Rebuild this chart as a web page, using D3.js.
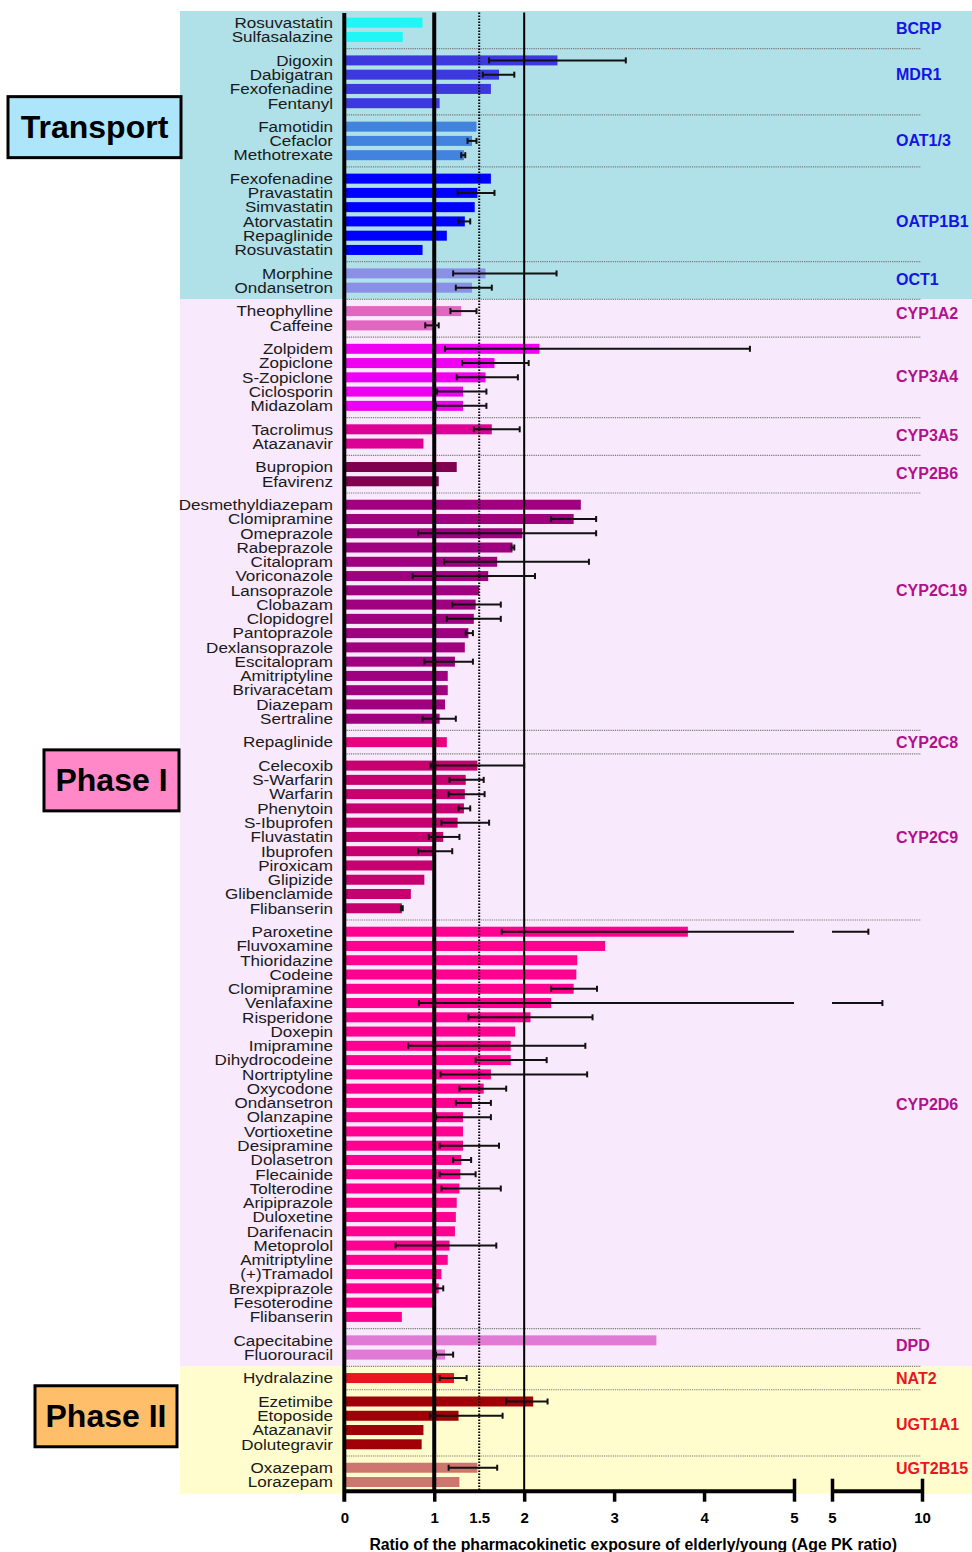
<!DOCTYPE html>
<html>
<head>
<meta charset="utf-8">
<script src="https://cdn.jsdelivr.net/npm/d3@7"></script>
<style>
  body { margin: 0; background: #fff; }
  svg { display: block; }
  text { font-family: "Liberation Sans", Arial, Helvetica, sans-serif; }
</style>
</head>
<body>
<svg id="chart" width="972" height="1552"></svg>
<script>
// ---- data -------------------------------------------------------------
const phases = ["Transport", "Phase I", "Phase II"];

const groupNames = ["BCRP", "MDR1", "OAT1/3", "OATP1B1", "OCT1",
  "CYP1A2", "CYP3A4", "CYP3A5", "CYP2B6", "CYP2C19", "CYP2C8", "CYP2C9", "CYP2D6", "DPD",
  "NAT2", "UGT1A1", "UGT2B15"];
const groupSizes = [2, 4, 3, 6, 2, 2, 5, 2, 2, 16, 1, 11, 28, 2, 1, 4, 2];
const groupPhase = [0, 0, 0, 0, 0, 1, 1, 1, 1, 1, 1, 1, 1, 1, 2, 2, 2];

const drugs = [
  "Rosuvastatin", "Sulfasalazine",
  "Digoxin", "Dabigatran", "Fexofenadine", "Fentanyl",
  "Famotidin", "Cefaclor", "Methotrexate",
  "Fexofenadine", "Pravastatin", "Simvastatin", "Atorvastatin", "Repaglinide", "Rosuvastatin",
  "Morphine", "Ondansetron",
  "Theophylline", "Caffeine",
  "Zolpidem", "Zopiclone", "S-Zopiclone", "Ciclosporin", "Midazolam",
  "Tacrolimus", "Atazanavir",
  "Bupropion", "Efavirenz",
  "Desmethyldiazepam", "Clomipramine", "Omeprazole", "Rabeprazole", "Citalopram", "Voriconazole",
  "Lansoprazole", "Clobazam", "Clopidogrel", "Pantoprazole", "Dexlansoprazole", "Escitalopram",
  "Amitriptyline", "Brivaracetam", "Diazepam", "Sertraline",
  "Repaglinide",
  "Celecoxib", "S-Warfarin", "Warfarin", "Phenytoin", "S-Ibuprofen", "Fluvastatin", "Ibuprofen",
  "Piroxicam", "Glipizide", "Glibenclamide", "Flibanserin",
  "Paroxetine", "Fluvoxamine", "Thioridazine", "Codeine", "Clomipramine", "Venlafaxine",
  "Risperidone", "Doxepin", "Imipramine", "Dihydrocodeine", "Nortriptyline", "Oxycodone",
  "Ondansetron", "Olanzapine", "Vortioxetine", "Desipramine", "Dolasetron", "Flecainide",
  "Tolterodine", "Aripiprazole", "Duloxetine", "Darifenacin", "Metoprolol", "Amitriptyline",
  "(+)Tramadol", "Brexpiprazole", "Fesoterodine", "Flibanserin",
  "Capecitabine", "Fluorouracil",
  "Hydralazine",
  "Ezetimibe", "Etoposide", "Atazanavir", "Dolutegravir",
  "Oxazepam", "Lorazepam"
];

// Age PK ratio (elderly / young)
const ratios = [
  0.87, 0.65,
  2.37, 1.72, 1.63, 1.06,
  1.47, 1.42, 1.33,
  1.63, 1.48, 1.45, 1.34, 1.14, 0.87,
  1.57, 1.42,
  1.30, 0.98,
  2.17, 1.67, 1.57, 1.32, 1.32,
  1.64, 0.88,
  1.25, 1.05,
  2.63, 2.55, 1.98, 1.87, 1.70, 1.60,
  1.50, 1.46, 1.44, 1.38, 1.34, 1.23,
  1.15, 1.15, 1.12, 1.06,
  1.14,
  1.48, 1.35, 1.34, 1.33, 1.26, 1.10, 0.99,
  0.98, 0.89, 0.74, 0.64,
  3.82, 2.90, 2.59, 2.58, 2.55, 2.30,
  2.07, 1.90, 1.85, 1.85, 1.63, 1.55,
  1.42, 1.32, 1.32, 1.32, 1.30, 1.29,
  1.28, 1.25, 1.24, 1.23, 1.17, 1.15,
  1.08, 1.05, 0.99, 0.64,
  3.47, 1.12,
  1.22,
  2.10, 1.27, 0.88, 0.86,
  1.48, 1.28
];

// range of the ratio (null where no range is given)
const rangeLow = [
  null, null,
  1.61, 1.54, null, null,
  null, 1.37, 1.30,
  null, 1.26, null, 1.27, null, null,
  1.21, 1.24,
  1.18, 0.90,
  1.12, 1.31, 1.25, 1.03, 1.02,
  1.44, null,
  null, null,
  null, 2.30, 0.82, 1.86, 1.11, 0.76,
  null, 1.20, 1.14, 1.35, null, 0.89,
  null, null, null, 0.87,
  null,
  0.96, 1.17, 1.16, 1.27, 1.08, 0.94, 0.82,
  null, null, null, 0.63,
  1.75, null, null, null, 2.30, 0.83,
  1.38, null, 0.71, 1.46, 1.07, 1.28,
  1.24, 1.02, null, 1.06, 1.21, 1.06,
  1.08, null, null, null, 0.57, null,
  null, 0.99, null, null,
  null, 1.02,
  1.06,
  1.80, 0.95, null, null,
  1.16, null
];
const rangeHigh = [
  null, null,
  3.13, 1.89, null, null,
  null, 1.47, 1.345,
  null, 1.67, null, 1.40, null, null,
  2.36, 1.64,
  1.47, 1.05,
  4.51, 2.05, 1.93, 1.58, 1.58,
  1.95, null,
  null, null,
  null, 2.80, 2.80, 1.89, 2.72, 2.12,
  null, 1.74, 1.74, 1.43, null, 1.43,
  null, null, null, 1.24,
  null,
  2.00, 1.55, 1.56, 1.40, 1.61, 1.28, 1.20,
  null, null, null, 0.65,
  7.02, null, null, null, 2.81, 7.80,
  2.76, null, 2.68, 2.25, 2.70, 1.80,
  1.63, 1.63, null, 1.72, 1.41, 1.46,
  1.74, null, null, null, 1.69, null,
  null, 1.10, null, null,
  null, 1.21,
  1.36,
  2.26, 1.76, null, null,
  1.70, null
];

const xTicksLow = [0, 1, 1.5, 2, 3, 4, 5];
const xTicksHigh = [5, 10];
const refLines = [1, 1.5, 2];
const axisTitle = "Ratio of the pharmacokinetic exposure of elderly/young (Age PK ratio)";

// ---- styles -----------------------------------------------------------
const groupColors = ["#20f6f6", "#3d37e0", "#4283e0", "#0000ff", "#8a90e6",
  "#e066c0", "#f000f0", "#dc0094", "#800050", "#9e0080", "#e8007e", "#c6006f", "#ff0090", "#e07ad4",
  "#e8161e", "#a00008", "#cc766f"];
const phaseBand = ["#b0e0e8", "#f8e9fc", "#fffdcd"];
const phaseBoxFill = ["#ade6fb", "#ff88c8", "#ffbf6a"];
const phaseLabelColor = ["#1414e4", "#b0128e", "#ec1420"];
// where each enzyme label sits, in rows from the group's first row
const groupLabelOffset = [0.37, 0.95, 0.93, 2.96, 0.39, 0.13, 1.9, 0.39, 0.41, 5.97, 0, 4.99, 12.06, 0.37, 0, 1.56, 0];
// phase boxes: horizontal extent and the drug row each box is centred on
const phaseBoxes = [
  { x0: 8, x1: 181, row: 6 },
  { x0: 44, x1: 179, row: 46 },
  { x0: 35, x1: 177, row: 88 }
];

// ---- layout -----------------------------------------------------------
const GAP = 0.643;                 // extra space between enzyme groups, in rows
const rowGroup = [];
groupSizes.forEach((n, g) => { for (let i = 0; i < n; i++) rowGroup.push(g); });
const rowPos = drugs.map((d, i) => i + rowGroup[i] * GAP);
const maxPos = rowPos[rowPos.length - 1];

const y = d3.scaleLinear().domain([0, maxPos]).range([22.7, 1482]);
const rowStep = y(1) - y(0);
const barH = 10;

const xLow = d3.scaleLinear().domain([0, 5]).range([344.3, 794]);
const xHigh = d3.scaleLinear().domain([5, 10]).range([832, 922]);

const groupFirst = [];
{ let s = 0; groupSizes.forEach(n => { groupFirst.push(s); s += n; }); }

const bandLeft = 180, bandRight = 972;
const plotTop = y(0) - 0.82 * rowStep;
const plotBottom = y(maxPos) + 0.84 * rowStep;
const axisY = y(maxPos) + 8.7;
const sepRight = 921;

const svg = d3.select("#chart");

// phase background bands
function boundaryAfterGroup(g) {
  const last = groupFirst[g] + groupSizes[g] - 1;
  return (y(rowPos[last]) + y(rowPos[last + 1])) / 2;
}
const phaseEdges = [plotTop];
for (let g = 0; g < groupNames.length - 1; g++) {
  if (groupPhase[g] !== groupPhase[g + 1]) phaseEdges.push(boundaryAfterGroup(g));
}
phaseEdges.push(plotBottom);

svg.append("g").selectAll("rect").data(phases).join("rect")
  .attr("x", bandLeft)
  .attr("width", bandRight - bandLeft)
  .attr("y", (d, i) => phaseEdges[i])
  .attr("height", (d, i) => phaseEdges[i + 1] - phaseEdges[i])
  .attr("fill", (d, i) => phaseBand[i]);

// phase boxes on the left
const boxG = svg.append("g");
phases.forEach((p, i) => {
  const b = phaseBoxes[i];
  const cy = y(rowPos[b.row]);
  boxG.append("rect")
    .attr("x", b.x0).attr("y", cy - 30)
    .attr("width", b.x1 - b.x0).attr("height", 61)
    .attr("fill", phaseBoxFill[i])
    .attr("stroke", "#000").attr("stroke-width", 3);
  boxG.append("text")
    .attr("x", (b.x0 + b.x1) / 2).attr("y", cy + 11.5)
    .attr("text-anchor", "middle")
    .attr("font-size", 32).attr("font-weight", "bold")
    .attr("fill", "#000")
    .text(p);
});

// dotted separators between enzyme groups
const sepYs = [];
for (let g = 0; g < groupNames.length - 1; g++) sepYs.push(boundaryAfterGroup(g));
svg.append("g").selectAll("line").data(sepYs).join("line")
  .attr("x1", xLow(0)).attr("x2", sepRight)
  .attr("y1", d => d).attr("y2", d => d)
  .attr("stroke", "#7a7a7a").attr("stroke-width", 1.2)
  .attr("stroke-dasharray", "1.2,1");

// bars
svg.append("g").selectAll("rect").data(drugs).join("rect")
  .attr("x", xLow(0))
  .attr("y", (d, i) => y(rowPos[i]) - barH / 2)
  .attr("width", (d, i) => xLow(ratios[i]) - xLow(0))
  .attr("height", barH)
  .attr("fill", (d, i) => groupColors[rowGroup[i]]);

// reference lines at 1, 1.5 and 2
const refG = svg.append("g");
refLines.forEach(v => {
  const l = refG.append("line")
    .attr("x1", xLow(v)).attr("x2", xLow(v))
    .attr("y1", plotTop + 1.5).attr("y2", axisY)
    .attr("stroke", "#000");
  if (v === 1) l.attr("stroke-width", 4);
  else if (v === 2) l.attr("stroke-width", 2);
  else l.attr("stroke-width", 2).attr("stroke-dasharray", "1.4,1.6");
});

// range whiskers; values past 5 continue on the second axis segment
const errG = svg.append("g").attr("stroke", "#111").attr("stroke-width", 2);
drugs.forEach((d, i) => {
  const lo = rangeLow[i], hi = rangeHigh[i];
  if (lo == null || hi == null) return;
  const cy = y(rowPos[i]);
  const xl = xLow(lo);
  const xr = hi > 5 ? xHigh(hi) : xLow(hi);
  errG.append("line").attr("x1", xl).attr("x2", hi > 5 ? xLow(5) : xr).attr("y1", cy).attr("y2", cy);
  if (hi > 5) errG.append("line").attr("x1", xHigh(5)).attr("x2", xr).attr("y1", cy).attr("y2", cy);
  [xl, xr].forEach(xc => errG.append("line")
    .attr("x1", xc).attr("x2", xc).attr("y1", cy - 3).attr("y2", cy + 3));
});

// vertical axis line at 0
svg.append("line")
  .attr("x1", xLow(0)).attr("x2", xLow(0))
  .attr("y1", plotTop + 2).attr("y2", axisY + 11)
  .attr("stroke", "#000").attr("stroke-width", 4);

// x axis, drawn in two segments
function styleAxis(g, bigTicks) {
  g.select(".domain").attr("stroke", "#000").attr("stroke-width", 4);
  g.selectAll(".tick line").attr("stroke", "#000").attr("stroke-width", 3.5)
    .attr("y1", d => bigTicks.includes(d) ? -12 : 0)
    .attr("y2", d => d === 1.5 ? 0 : 11)
    .attr("opacity", d => d === 1.5 || d === 0 ? 0 : 1);
  g.selectAll(".tick text")
    .attr("y", 22).attr("dy", "0.71em")
    .attr("font-size", 15).attr("font-weight", "bold")
    .attr("font-family", "\"Liberation Sans\", Arial, sans-serif")
    .attr("fill", "#000");
}
const axLow = svg.append("g").attr("transform", `translate(0,${axisY})`)
  .call(d3.axisBottom(xLow).tickValues(xTicksLow).tickSizeOuter(0).tickFormat(d3.format("")));
styleAxis(axLow, [5]);
const axHigh = svg.append("g").attr("transform", `translate(0,${axisY})`)
  .call(d3.axisBottom(xHigh).tickValues(xTicksHigh).tickSizeOuter(0).tickFormat(d3.format("")));
styleAxis(axHigh, [5, 10]);

svg.append("text")
  .attr("x", (xLow(0) + xHigh(10)) / 2).attr("y", axisY + 59)
  .attr("text-anchor", "middle")
  .attr("font-size", 15.8).attr("font-weight", "bold").attr("fill", "#000")
  .text(axisTitle);

// drug labels
const labelX = 333;
svg.append("g").selectAll("text").data(drugs).join("text")
  .attr("transform", (d, i) => `translate(${labelX},${y(rowPos[i]) + 5.3}) scale(1.1,1)`)
  .attr("text-anchor", "end")
  .attr("font-size", 15.5)
  .attr("fill", "#1a1a1a")
  .text(d => d);

// enzyme / transporter labels
svg.append("g").selectAll("text").data(groupNames).join("text")
  .attr("x", 896)
  .attr("y", (d, g) => y(rowPos[groupFirst[g]] + groupLabelOffset[g]) + 5.8)
  .attr("font-size", 16).attr("font-weight", "bold")
  .attr("fill", (d, g) => phaseLabelColor[groupPhase[g]])
  .text(d => d);
</script>
</body>
</html>
